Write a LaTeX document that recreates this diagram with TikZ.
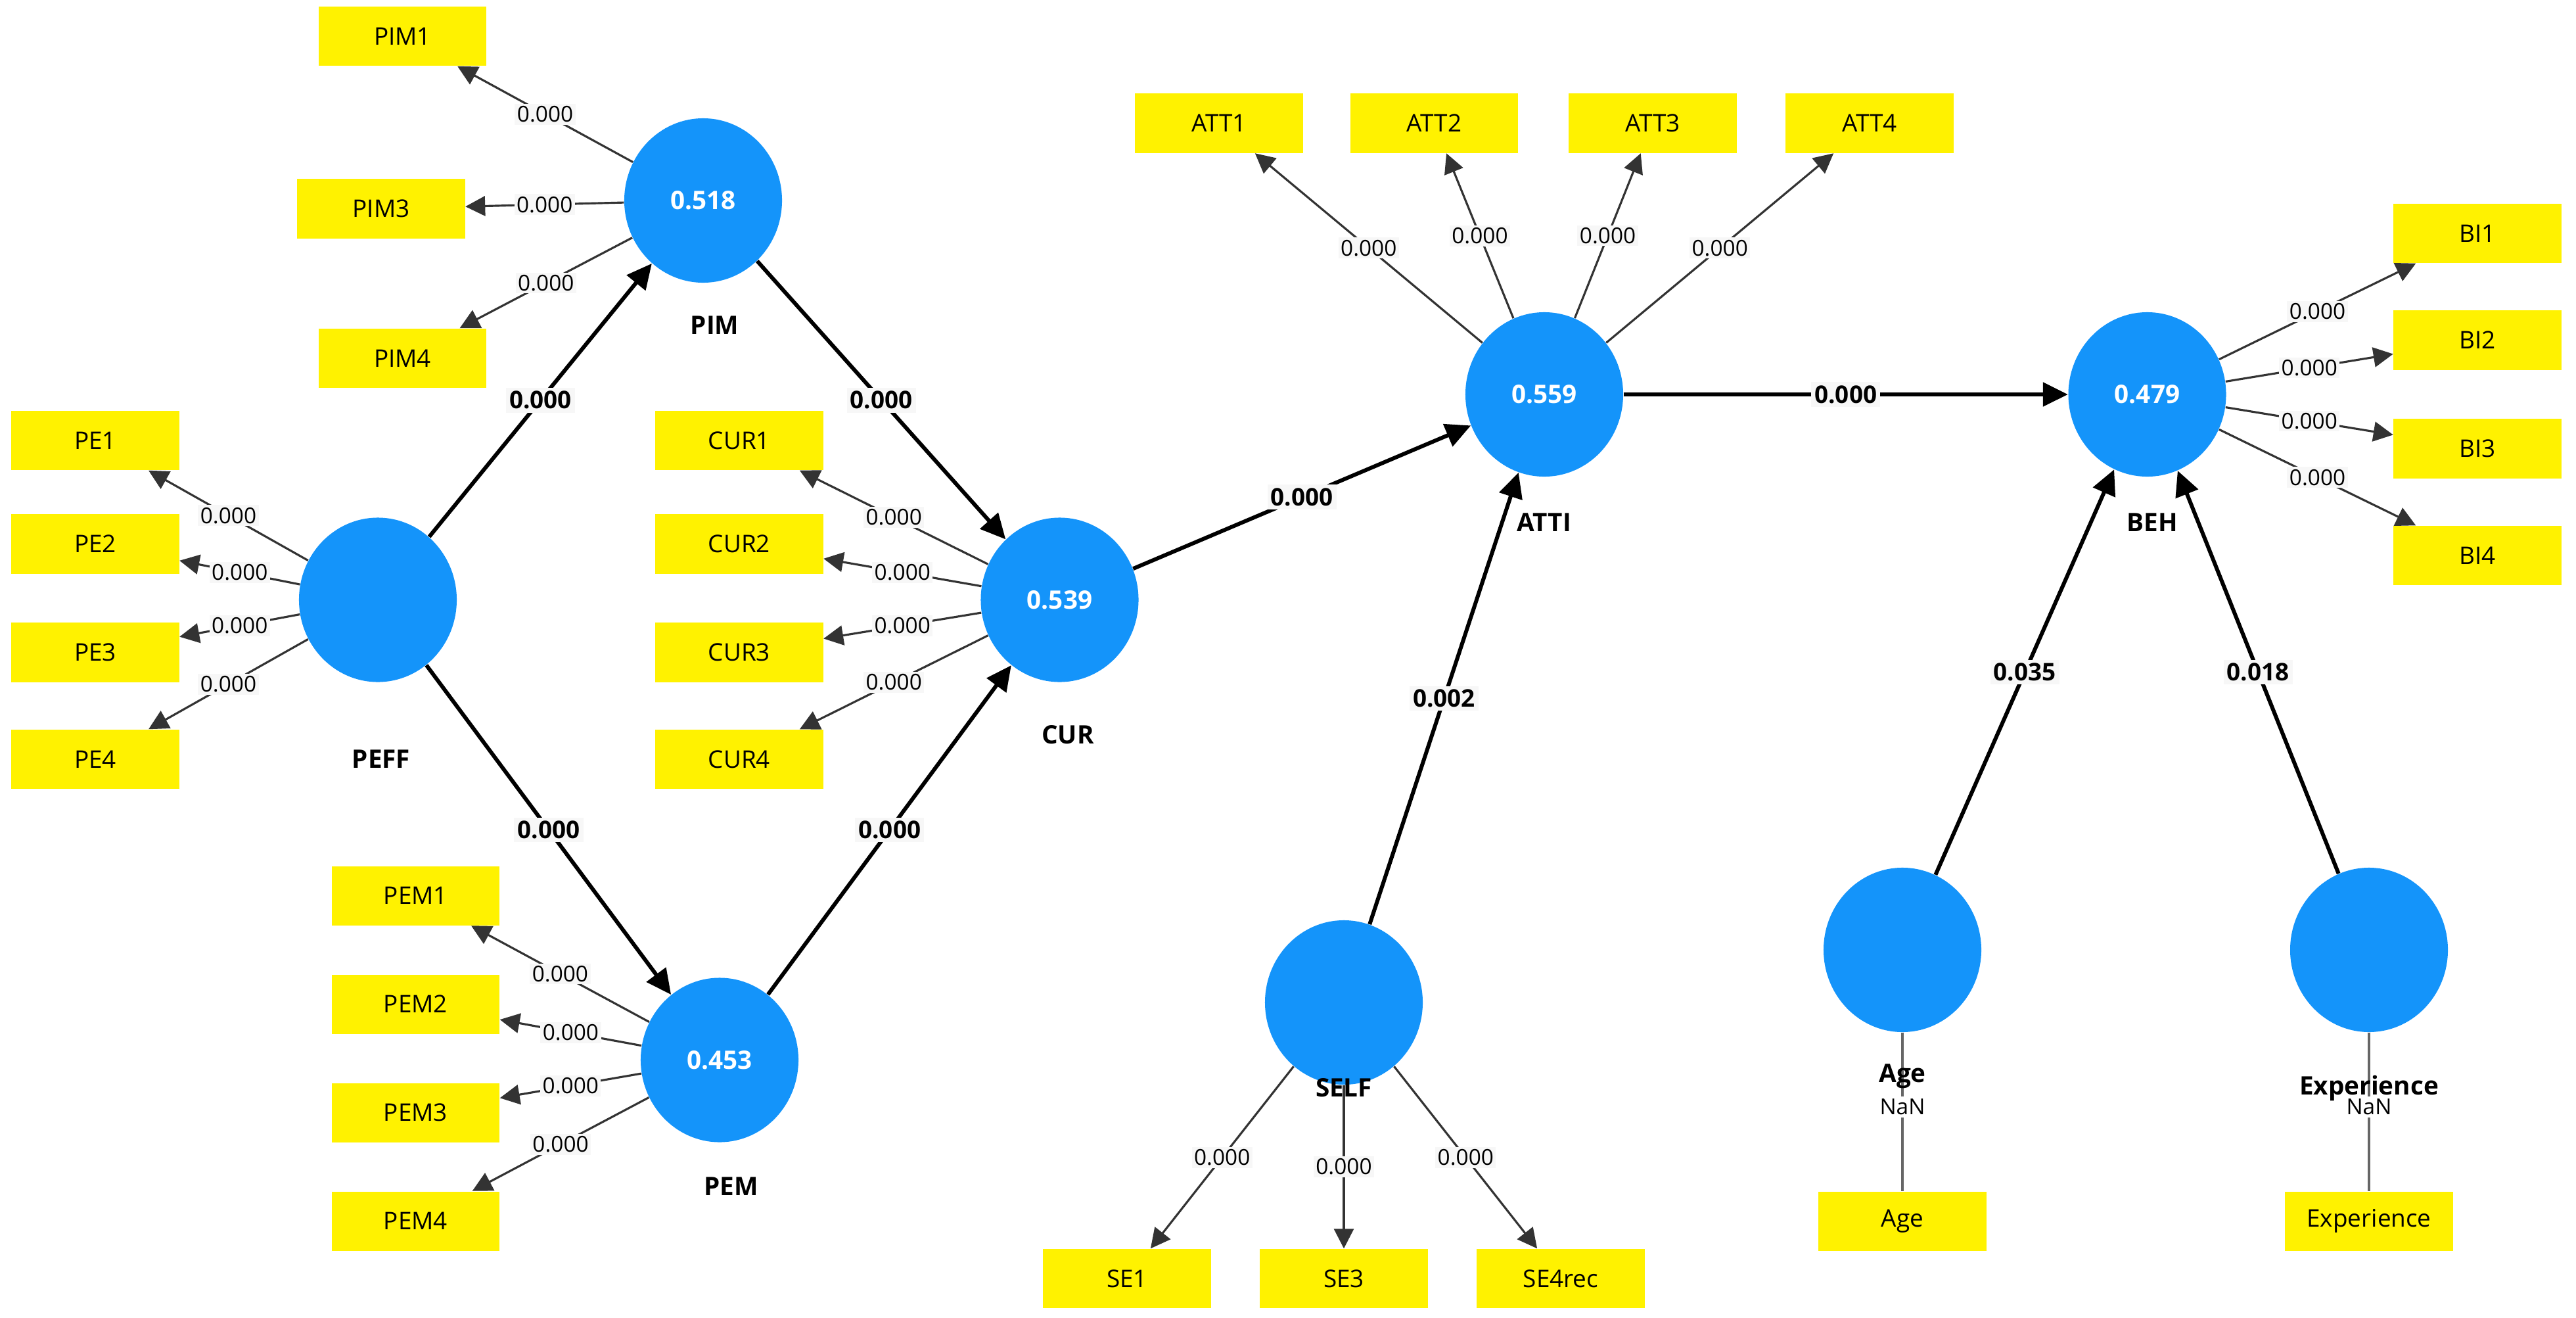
\documentclass[tikz,border=0pt]{standalone}
\usepackage{fontspec}
\setmainfont{Open Sans}
\usetikzlibrary{arrows.meta,shapes.geometric}
\begin{document}
\begin{tikzpicture}[x=0.025cm,y=-0.025cm,
  lv/.style={ellipse,fill=lvblue,draw=none,minimum width=2.4cm,minimum height=2.5cm,inner sep=0pt,text=white,font=\fontsize{11}{13}\selectfont\bfseries},
  mv/.style={rectangle,fill=yellow,draw=none,minimum width=2.55cm,minimum height=0.9cm,inner sep=0pt,font=\fontsize{10.5}{12}\selectfont},
  nm/.style={font=\fontsize{11}{13}\selectfont\bfseries,inner sep=1pt},
  ind/.style={draw=black!80,line width=0.9pt,-{Triangle[length=0.3cm,width=0.3cm]}},
  pth/.style={draw=black,line width=1.7pt,-{Triangle[length=0.38cm,width=0.36cm]}},
  il/.style={midway,fill=black!3,inner sep=1pt,font=\fontsize{9.5}{11}\selectfont},
  pl/.style={midway,fill=black!3,inner sep=1.5pt,font=\fontsize{10.5}{12}\selectfont\bfseries}]
\definecolor{lvblue}{RGB}{20,148,250}
\useasboundingbox (0,0) rectangle (1568,802);
% latent variables
\node[lv] (PIM) at (428,122) {0.518};
\node[lv] (PEFF) at (230,365) {};
\node[lv] (CUR) at (645,365) {0.539};
\node[lv] (PEM) at (438,645) {0.453};
\node[lv] (ATTI) at (940,240) {0.559};
\node[lv] (BEH) at (1307,240) {0.479};
\node[lv] (SELF) at (818,610) {};
\node[lv] (AGE) at (1158,578) {};
\node[lv] (EXP) at (1442,578) {};
% names
\node[nm] (nPIM) at (435,198) {PIM};
\node[nm] (nPEFF) at (232,462) {PEFF};
\node[nm] (nCUR) at (650,447) {CUR};
\node[nm] (nPEM) at (445,722) {PEM};
\node[nm] (nATTI) at (940,318) {ATTI};
\node[nm] (nBEH) at (1310,318) {BEH};
\node[nm] (nSELF) at (818,662) {SELF};
% indicators
\node[mv] (PIM1) at (245,22) {PIM1};
\node[mv] (PIM3) at (232,127) {PIM3};
\node[mv] (PIM4) at (245,218) {PIM4};
\node[mv] (PE1) at (58,268) {PE1};
\node[mv] (PE2) at (58,331) {PE2};
\node[mv] (PE3) at (58,397) {PE3};
\node[mv] (PE4) at (58,462) {PE4};
\node[mv] (CUR1) at (450,268) {CUR1};
\node[mv] (CUR2) at (450,331) {CUR2};
\node[mv] (CUR3) at (450,397) {CUR3};
\node[mv] (CUR4) at (450,462) {CUR4};
\node[mv] (PEM1) at (253,545) {PEM1};
\node[mv] (PEM2) at (253,611) {PEM2};
\node[mv] (PEM3) at (253,677) {PEM3};
\node[mv] (PEM4) at (253,743) {PEM4};
\node[mv] (ATT1) at (742,75) {ATT1};
\node[mv] (ATT2) at (873,75) {ATT2};
\node[mv] (ATT3) at (1006,75) {ATT3};
\node[mv] (ATT4) at (1138,75) {ATT4};
\node[mv] (BI1) at (1508,142) {BI1};
\node[mv] (BI2) at (1508,207) {BI2};
\node[mv] (BI3) at (1508,273) {BI3};
\node[mv] (BI4) at (1508,338) {BI4};
\node[mv] (SE1) at (686,778) {SE1};
\node[mv] (SE3) at (818,778) {SE3};
\node[mv] (SE4) at (950,778) {SE4rec};
\node[mv] (mAGE) at (1158,743) {Age};
\node[mv] (mEXP) at (1442,743) {Experience};
% indicator arrows
\foreach \a/\b in {PIM/PIM1,PIM/PIM3,PIM/PIM4,PEFF/PE1,PEFF/PE2,PEFF/PE3,PEFF/PE4,
  CUR/CUR1,CUR/CUR2,CUR/CUR3,CUR/CUR4,PEM/PEM1,PEM/PEM2,PEM/PEM3,PEM/PEM4,
  ATTI/ATT1,ATTI/ATT2,ATTI/ATT3,ATTI/ATT4,BEH/BI1,BEH/BI2,BEH/BI3,BEH/BI4,
  SELF/SE1,SELF/SE3,SELF/SE4}
  \draw[ind] (\a) -- node[il]{0.000} (\b);
\draw[draw=black!60,line width=0.9pt] (AGE) -- node[il,pos=0.47,fill=white]{NaN} (mAGE);
\draw[draw=black!60,line width=0.9pt] (EXP) -- node[il,pos=0.47,fill=white]{NaN} (mEXP);
\node[nm] (nAGE) at (1158,655) {Age};
\node[nm] (nEXP) at (1442,662) {Experience};
% structural paths
\draw[pth] (PEFF) -- node[pl]{0.000} (PIM);
\draw[pth] (PIM) -- node[pl]{0.000} (CUR);
\draw[pth] (PEFF) -- node[pl]{0.000} (PEM);
\draw[pth] (PEM) -- node[pl]{0.000} (CUR);
\draw[pth] (CUR) -- node[pl]{0.000} (ATTI);
\draw[pth] (ATTI) -- node[pl]{0.000} (BEH);
\draw[pth] (SELF) -- node[pl]{0.002} (ATTI);
\draw[pth] (AGE) -- node[pl]{0.035} (BEH);
\draw[pth] (EXP) -- node[pl]{0.018} (BEH);
\end{tikzpicture}
\end{document}
